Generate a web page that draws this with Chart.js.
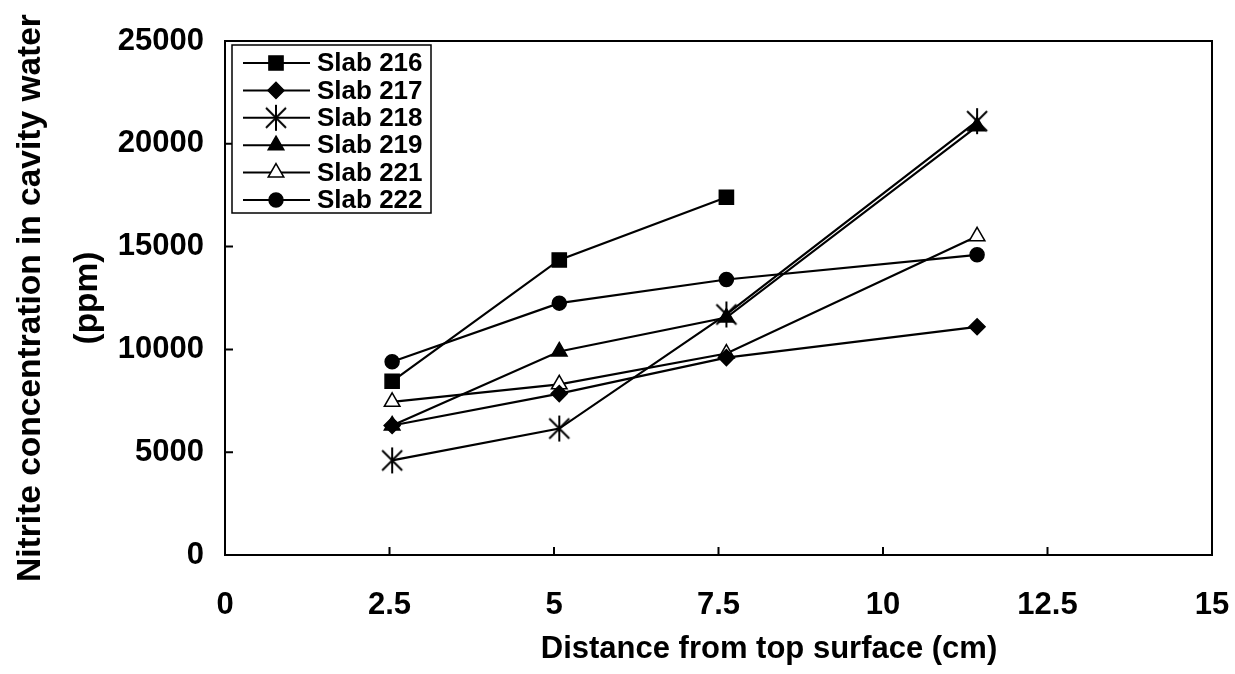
<!DOCTYPE html>
<html>
<head>
<meta charset="utf-8">
<script src="https://cdn.jsdelivr.net/npm/chart.js@4"></script>
<style>
  body { margin: 0; background: #fff; }
</style>
</head>
<body>
<canvas id="chart" width="1235" height="674"></canvas>
<script>
// distance from top surface (cm)
const distances = [2.54, 5.08, 7.62, 11.43]

// nitrite concentration (ppm) for each slab
const slabNames = ['Slab 216', 'Slab 217', 'Slab 218', 'Slab 219', 'Slab 221', 'Slab 222']
const slab216 = [8450, 14350, 17400, null]
const slab217 = [6300, 7850, 9600, 11100]
const slab218 = [4600, 6150, 11700, 21100]
const slab219 = [6300, 9900, 11550, 20850]
const slab221 = [7450, 8300, 9800, 15500]
const slab222 = [9400, 12250, 13400, 14600]

// axis ticks
const xTicks = [0, 2.5, 5, 7.5, 10, 12.5, 15]
const yTicks = [0, 5000, 10000, 15000, 20000, 25000]

const xTitle = 'Distance from top surface (cm)'
const yTitle = ['Nitrite concentration in cavity water', '(ppm)']

const FONT = "'Liberation Sans', Arial, sans-serif"
Chart.defaults.font.family = FONT
Chart.defaults.color = '#000'

// asterisk marker (vertical bar + X)
const asterisk = document.createElement('canvas')
asterisk.width = 28
asterisk.height = 28
{
  const c = asterisk.getContext('2d')
  c.strokeStyle = '#000'
  c.lineWidth = 2
  c.beginPath()
  c.moveTo(14, 1); c.lineTo(14, 27)
  c.moveTo(4, 4); c.lineTo(24, 24)
  c.moveTo(24, 4); c.lineTo(4, 24)
  c.stroke()
}

const series = [slab216, slab217, slab218, slab219, slab221, slab222]
const styles = [
  { pointStyle: 'rect', radius: 10, fill: '#000' },
  { pointStyle: 'rectRot', radius: 8, fill: '#000' },
  { pointStyle: asterisk, radius: 12, fill: '#000' },
  { pointStyle: 'triangle', radius: 9, fill: '#000' },
  { pointStyle: 'triangle', radius: 9, fill: '#fff' },
  { pointStyle: 'circle', radius: 7, fill: '#000' },
]

const datasets = series.map((values, i) => ({
  label: slabNames[i],
  data: values.map((v, j) => (v === null ? null : { x: distances[j], y: v })).filter((p) => p),
  borderColor: '#000',
  borderWidth: 2.2,
  pointStyle: styles[i].pointStyle,
  pointRadius: styles[i].radius,
  pointBackgroundColor: styles[i].fill,
  pointBorderColor: '#000',
  pointBorderWidth: 1.5,
  tension: 0,
}))

// frame, inside ticks, x title and legend box
const decorations = {
  id: 'decorations',
  afterDraw(chart) {
    const ctx = chart.ctx
    const a = chart.chartArea
    const xs = chart.scales.x
    const ys = chart.scales.y
    ctx.save()
    ctx.strokeStyle = '#000'
    ctx.lineWidth = 2
    ctx.strokeRect(a.left, a.top, a.right - a.left, a.bottom - a.top)
    ctx.beginPath()
    xTicks.slice(1, -1).forEach((v) => {
      const px = xs.getPixelForValue(v)
      ctx.moveTo(px, a.bottom)
      ctx.lineTo(px, a.bottom - 8)
    })
    yTicks.slice(1, -1).forEach((v) => {
      const py = ys.getPixelForValue(v)
      ctx.moveTo(a.left, py)
      ctx.lineTo(a.left + 8, py)
    })
    ctx.stroke()

    // x axis title
    ctx.fillStyle = '#000'
    ctx.font = 'bold 31px ' + FONT
    ctx.textAlign = 'center'
    ctx.textBaseline = 'middle'
    ctx.fillText(xTitle, 769, 649)

    // legend
    ctx.fillStyle = '#fff'
    ctx.fillRect(232, 45, 199, 168)
    ctx.lineWidth = 1.5
    ctx.strokeRect(232, 45, 199, 168)
    ctx.font = 'bold 26px ' + FONT
    ctx.textAlign = 'left'
    chart.data.datasets.forEach((ds, i) => {
      const y = 63 + i * 27.4
      ctx.strokeStyle = '#000'
      ctx.lineWidth = 2
      ctx.beginPath()
      ctx.moveTo(243, y)
      ctx.lineTo(310, y)
      ctx.stroke()
      ctx.fillStyle = ds.pointBackgroundColor
      ctx.lineWidth = ds.pointBorderWidth
      Chart.helpers.drawPoint(ctx, {
        pointStyle: ds.pointStyle,
        radius: ds.pointRadius,
        rotation: 0,
        borderWidth: ds.pointBorderWidth,
      }, 276, y)
      ctx.fillStyle = '#000'
      ctx.fillText(ds.label, 317, y + 1)
    })
    ctx.restore()
  },
}

const chart = new Chart(document.getElementById('chart'), {
  type: 'line',
  data: { datasets: datasets },
  plugins: [decorations],
  options: {
    responsive: false,
    animation: false,
    layout: { padding: { top: 41, right: 23, left: 0, bottom: 0 } },
    plugins: { legend: { display: false }, tooltip: { enabled: false } },
    scales: {
      x: {
        type: 'linear',
        min: 0,
        max: 15,
        afterFit: (s) => {
          s.height = 119
          s.paddingLeft = 0
          s.paddingRight = 0
        },
        afterBuildTicks: (s) => { s.ticks = xTicks.map((v) => ({ value: v })) },
        grid: { display: false, drawTicks: false },
        border: { display: false },
        ticks: {
          padding: 32,
          font: { size: 31, weight: 'bold' },
          callback: (v) => String(v),
        },
      },
      y: {
        min: 0,
        max: 25000,
        afterFit: (s) => { s.width = 225 },
        afterBuildTicks: (s) => { s.ticks = yTicks.map((v) => ({ value: v })) },
        grid: { display: false, drawTicks: false },
        border: { display: false },
        ticks: {
          padding: 21,
          font: { size: 31, weight: 'bold' },
          callback: (v) => String(v),
        },
        title: {
          display: true,
          text: yTitle,
          padding: { top: 2, bottom: 0 },
          font: { size: 33.5, weight: 'bold', lineHeight: 1.7 },
        },
      },
    },
  },
})
</script>
</body>
</html>
